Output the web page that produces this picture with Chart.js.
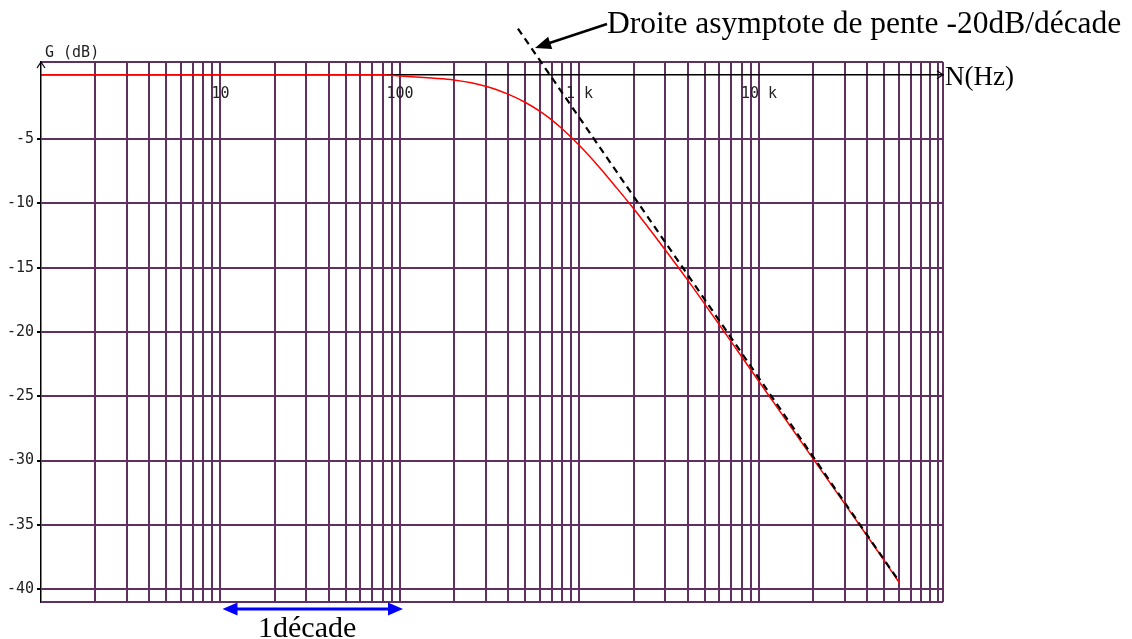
<!DOCTYPE html>
<html><head><meta charset="utf-8">
<script src="https://cdn.jsdelivr.net/npm/chart.js@4.4.1/dist/chart.umd.min.js"></script>
<style>html,body{margin:0;padding:0;background:#fff;overflow:hidden}canvas{display:block}</style>
</head><body>
<canvas id="c" width="1132" height="639"></canvas>
<script>
// ---- Data ----
const freqHz = [1, 10, 80, 100, 150, 200, 300, 400, 500, 600, 700, 800, 1000, 1300, 1600, 2000, 3000, 4000, 5000, 7000, 10000, 15000, 20000, 30000, 40000, 50000, 60500];
const gainDb = [0, 0, 0, -0.08, -0.25, -0.4, -0.88, -1.5, -2.15, -2.82, -3.5, -4.19, -5.5, -7.24, -8.74, -10.4, -13.6, -15.95, -17.85, -20.75, -23.85, -27.35, -29.85, -33.35, -35.85, -37.8, -39.5];
const asymptoteHz = [454, 58700];
const asymptoteDb = [3.6, -39.15];
const xDecades = [1, 10, 100, 1000, 10000];
const xMultiples = [1, 2, 3, 4, 5, 6, 7, 8, 9];
const xLabelValues = [10, 100, 1000, 10000];
const xLabelTexts = ['10', '100', '1 k', '10 k'];
const yLabelValues = [-40, -35, -30, -25, -20, -15, -10, -5];
const xMin = 1, xMax = 106000, yMin = -41, yMax = 1;
const annotationText = 'Droite asymptote de pente -20dB/décade';
const decadeText = '1décade';
const yTitle = 'G (dB)';
const xTitle = 'N(Hz)';

// ---- derived tick lists ----
const xGridValues = [];
xDecades.forEach(d => xMultiples.forEach(m => xGridValues.push(d * m)));
xGridValues.push(100000, xMax);
const yGridValues = [yMin].concat(yLabelValues.slice(), [0, yMax]);

const PURPLE = '#603060';
const TICKFONT = {family: '"DejaVu Sans Mono", monospace', size: 15};

function arrowHead(c, x1, y1, x2, y2, len, half, color) {
  const ang = Math.atan2(y2 - y1, x2 - x1);
  c.fillStyle = color;
  c.beginPath();
  c.moveTo(x2, y2);
  c.lineTo(x2 - len * Math.cos(ang) + half * Math.sin(ang), y2 - len * Math.sin(ang) - half * Math.cos(ang));
  c.lineTo(x2 - len * Math.cos(ang) - half * Math.sin(ang), y2 - len * Math.sin(ang) + half * Math.cos(ang));
  c.closePath();
  c.fill();
}

const deco = {
  id: 'deco',
  beforeDraw(chart) {
    const c = chart.ctx;
    c.save(); c.fillStyle = '#fff'; c.fillRect(0, 0, chart.width, chart.height); c.restore();
  },
  afterDraw(chart) {
    const c = chart.ctx, xs = chart.scales.x, ys = chart.scales.y, a = chart.chartArea;
    const y0 = ys.getPixelForValue(0);
    c.save();
    // axis arrow heads
    c.strokeStyle = '#000'; c.lineWidth = 1.2;
    c.beginPath(); c.moveTo(a.left - 4, a.top + 6); c.lineTo(a.left, a.top); c.lineTo(a.left + 4, a.top + 6); c.stroke();
    c.beginPath(); c.moveTo(a.right - 6, y0 - 4); c.lineTo(a.right, y0); c.lineTo(a.right - 6, y0 + 4); c.stroke();
    // axis titles
    c.fillStyle = '#222'; c.font = '15px "DejaVu Sans Mono"'; c.textAlign = 'left'; c.textBaseline = 'middle';
    c.fillText(yTitle, a.left + 4, a.top - 9);
    c.fillStyle = '#000'; c.font = '27px "Liberation Serif"'; c.textBaseline = 'alphabetic';
    c.fillText(xTitle, a.right + 2, y0 + 10);
    // annotation
    c.font = '31.5px "Liberation Serif"';
    c.fillText(annotationText, 607, 33);
    c.strokeStyle = '#000'; c.lineWidth = 2.5;
    c.beginPath(); c.moveTo(607, 24); c.lineTo(545, 44.5); c.stroke();
    arrowHead(c, 607, 24, 535, 48, 16, 6.5, '#000');
    // one decade arrow
    const bx1 = xs.getPixelForValue(10) + 2, bx2 = xs.getPixelForValue(100) + 3, by = a.bottom + 7;
    c.strokeStyle = '#0000ff'; c.lineWidth = 3;
    c.beginPath(); c.moveTo(bx1 + 10, by); c.lineTo(bx2 - 10, by); c.stroke();
    arrowHead(c, bx2, by, bx1, by, 15, 6.5, '#0000ff');
    arrowHead(c, bx1, by, bx2, by, 15, 6.5, '#0000ff');
    c.fillStyle = '#000'; c.font = '30px "Liberation Serif"';
    c.fillText(decadeText, 258, 637);
    c.restore();
  }
};

new Chart(document.getElementById('c').getContext('2d'), {
  type: 'line',
  data: {
    datasets: [
      {
        data: asymptoteHz.map((f, i) => ({x: f, y: asymptoteDb[i]})),
        borderColor: '#000', borderWidth: 2.2, borderDash: [7, 5], pointRadius: 0,
        clip: false, order: 0, tension: 0
      },
      {
        data: freqHz.map((f, i) => ({x: f, y: gainDb[i]})),
        borderColor: '#ff0000', borderWidth: 1.5, pointRadius: 0,
        cubicInterpolationMode: 'monotone', order: 1
      }
    ]
  },
  options: {
    responsive: false, animation: false, devicePixelRatio: 1,
    layout: {padding: {left: 0, right: 189, top: 62, bottom: 37}},
    plugins: {legend: {display: false}, tooltip: {enabled: false}, title: {display: false}},
    scales: {
      x: {
        type: 'logarithmic', position: {y: 0}, min: xMin, max: xMax,
        afterBuildTicks: s => { s.ticks = xGridValues.map(v => ({value: v})); },
        grid: {
          color: ctx => (ctx.tick && ctx.tick.value === xMin) ? 'rgba(0,0,0,0)' : PURPLE,
          lineWidth: 2, drawTicks: false
        },
        border: {color: '#000', width: 1.5},
        ticks: {
          autoSkip: false, maxRotation: 0, minRotation: 0, padding: 10, color: '#222', font: TICKFONT,
          callback: v => { const i = xLabelValues.indexOf(v); return i >= 0 ? xLabelTexts[i] : ''; }
        }
      },
      y: {
        type: 'linear', min: yMin, max: yMax,
        afterBuildTicks: s => { s.ticks = yGridValues.map(v => ({value: v})); },
        afterFit: s => { s.width = 41; },
        grid: {
          color: ctx => (ctx.tick && ctx.tick.value === 0) ? 'rgba(0,0,0,0)' : PURPLE,
          lineWidth: 2, tickLength: 4,
          tickColor: ctx => (ctx.tick && yLabelValues.indexOf(ctx.tick.value) >= 0) ? '#000' : 'rgba(0,0,0,0)'
        },
        border: {color: '#000', width: 1.5},
        ticks: {
          autoSkip: false, padding: 3, color: '#222', font: TICKFONT,
          callback: v => yLabelValues.indexOf(v) >= 0 ? String(v) : ''
        }
      }
    }
  },
  plugins: [deco]
});
</script>
</body></html>
